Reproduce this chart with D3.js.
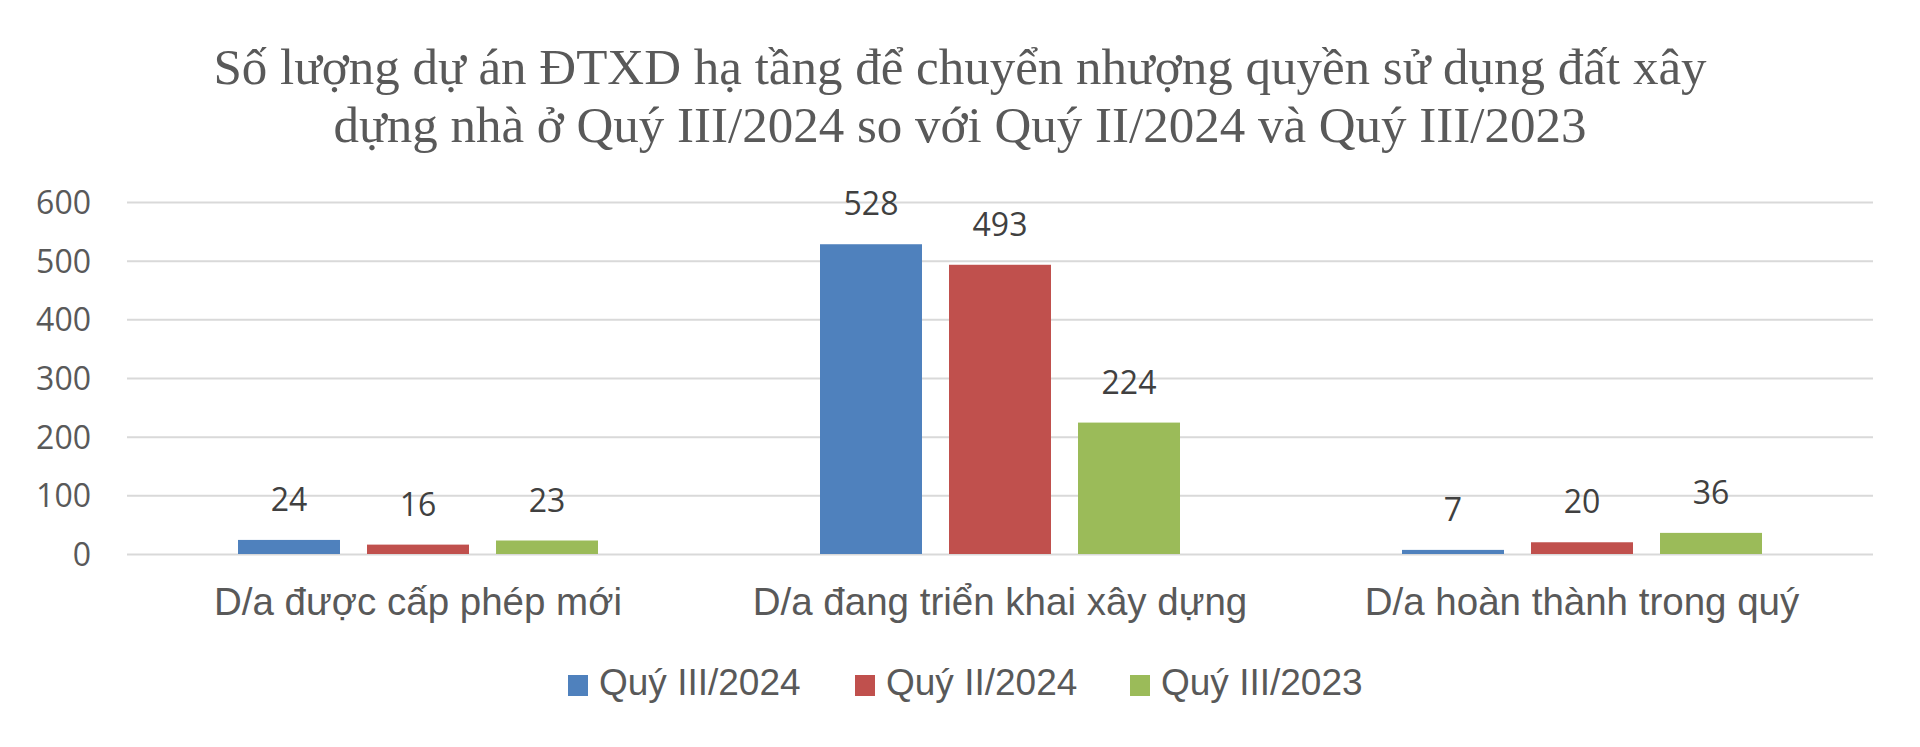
<!DOCTYPE html>
<html>
<head>
<meta charset="utf-8">
<script src="https://cdn.jsdelivr.net/npm/d3@7"></script>
<style>
  html, body { margin: 0; padding: 0; background: #fff; }
  svg { display: block; }
</style>
</head>
<body>
<svg id="chart" width="1920" height="747"></svg>
<script>
const titleLines = [
  "Số lượng dự án ĐTXD hạ tầng để chuyển nhượng quyền sử dụng đất xây",
  "dựng nhà ở Quý III/2024 so với Quý II/2024 và Quý III/2023"
];
const categories = ["D/a được cấp phép mới", "D/a đang triển khai xây dựng", "D/a hoàn thành trong quý"];
const seriesNames = ["Quý III/2024", "Quý II/2024", "Quý III/2023"];
const seriesQ3_2024 = [24, 528, 7];
const seriesQ2_2024 = [16, 493, 20];
const seriesQ3_2023 = [23, 224, 36];
const yTicks = [0, 100, 200, 300, 400, 500, 600];
const colors = ["#4F81BD", "#C0504D", "#9BBB59"];

const seriesValues = [seriesQ3_2024, seriesQ2_2024, seriesQ3_2023];

const svg = d3.select("#chart");
const plotLeft = 127, plotRight = 1873, plotTop = 202, plotBottom = 554;

const x0 = d3.scaleBand().domain(categories).range([plotLeft, plotRight]).padding(0);
const x1 = d3.scaleBand().domain(seriesNames).range([111, 471]).paddingInner(27 / 129).paddingOuter(0);
const y = d3.scaleLinear().domain([0, 600]).range([plotBottom, plotTop]);

// Title
svg.append("g").selectAll("text").data(titleLines).join("text")
  .attr("x", 960)
  .attr("y", (d, i) => 84 + i * 58)
  .attr("text-anchor", "middle")
  .attr("font-family", "'Liberation Serif', 'Times New Roman', serif")
  .attr("font-size", 51)
  .attr("fill", "#595959")
  .text(d => d);

// Y axis with gridlines
const yAxis = d3.axisLeft(y).tickValues(yTicks).tickSize(-(plotRight - plotLeft)).tickPadding(36).tickFormat(d3.format("d"));
const gy = svg.append("g").attr("transform", `translate(${plotLeft},0)`).call(yAxis);
gy.select(".domain").remove();
gy.selectAll(".tick line").attr("stroke", "#D9D9D9").attr("stroke-width", 2);
gy.selectAll(".tick text")
  .attr("font-family", "'Open Sans', sans-serif")
  .attr("font-size", 32)
  .attr("fill", "#595959")
  .attr("dy", "0.36em");

// Bars
const groups = svg.append("g").selectAll("g").data(categories).join("g")
  .attr("transform", d => `translate(${x0(d)},0)`);

const cellData = (c, ci) => seriesNames.map((s, si) => ({ s, si, v: seriesValues[si][ci] }));

groups.selectAll("rect").data(cellData)
  .join("rect")
  .attr("x", d => x1(d.s))
  .attr("y", d => y(d.v))
  .attr("width", x1.bandwidth())
  .attr("height", d => y(0) - y(d.v))
  .attr("fill", d => colors[d.si]);

groups.selectAll("text.val").data(cellData)
  .join("text")
  .attr("class", "val")
  .attr("x", d => x1(d.s) + x1.bandwidth() / 2)
  .attr("y", d => y(d.v) - 29)
  .attr("text-anchor", "middle")
  .attr("font-family", "'Open Sans', sans-serif")
  .attr("font-size", 32)
  .attr("fill", "#404040")
  .text(d => d.v);

// X axis labels
const xAxis = d3.axisBottom(x0).tickSize(0).tickPadding(0);
const gx = svg.append("g").attr("transform", `translate(0,${plotBottom})`).call(xAxis);
gx.select(".domain").remove();
gx.selectAll(".tick text")
  .attr("y", 61)
  .attr("dy", 0)
  .attr("font-family", "'Liberation Sans', Arial, sans-serif")
  .attr("font-size", 38.5)
  .attr("fill", "#595959");

// Legend
const legendX = [568, 855, 1130];
const legend = svg.append("g").selectAll("g").data(seriesNames).join("g")
  .attr("transform", (d, i) => `translate(${legendX[i]},0)`);
legend.append("rect")
  .attr("x", 0).attr("y", 675).attr("width", 20).attr("height", 21)
  .attr("fill", (d, i) => colors[i]);
legend.append("text")
  .attr("x", 31).attr("y", 695)
  .attr("font-family", "'Liberation Sans', Arial, sans-serif")
  .attr("font-size", 37)
  .attr("fill", "#595959")
  .text(d => d);
</script>
</body>
</html>
